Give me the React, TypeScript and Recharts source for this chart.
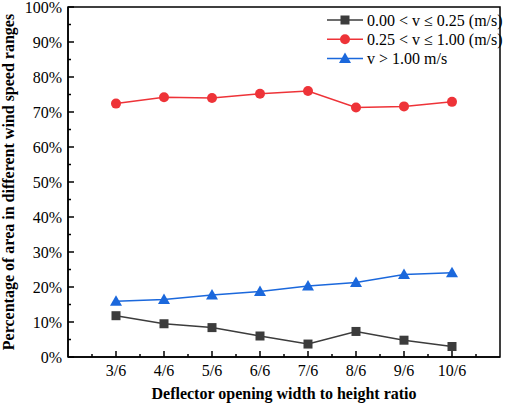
import { LineChart, Line, XAxis, YAxis, ReferenceArea } from 'recharts'

const ratios = [3, 4, 5, 6, 7, 8, 9, 10]
const lowSpeed = [11.8, 9.5, 8.4, 6.0, 3.7, 7.3, 4.8, 3.0]
const midSpeed = [72.4, 74.2, 74.0, 75.2, 76.0, 71.3, 71.6, 72.9]
const highSpeed = [15.9, 16.4, 17.7, 18.7, 20.3, 21.3, 23.6, 24.1]

const xTicks = [2.5, 3, 3.5, 4, 4.5, 5, 5.5, 6, 6.5, 7, 7.5, 8, 8.5, 9, 9.5, 10, 10.5]
const yTicks = Array.from({ length: 21 }, (_, i) => i * 5)

const series = [
  { key: 'low', name: '0.00 < v ≤ 0.25 (m/s)', color: '#3c3c3c', shape: 'square' },
  { key: 'mid', name: '0.25 < v ≤ 1.00 (m/s)', color: '#ee3338', shape: 'circle' },
  { key: 'high', name: 'v > 1.00 m/s', color: '#1b68dc', shape: 'triangle' },
]

const data = ratios.map((r, i) => ({
  ratio: r,
  low: lowSpeed[i],
  mid: midSpeed[i],
  high: highSpeed[i],
}))

const font = '"Liberation Serif", "Times New Roman", serif'

function Marker({ cx, cy, shape, color }: any) {
  if (cx == null || cy == null) return null
  if (shape === 'square')
    return <rect x={cx - 4.5} y={cy - 4.5} width={9} height={9} fill={color} />
  if (shape === 'triangle')
    return (
      <polygon
        points={`${cx},${cy - 6} ${cx - 6},${cy + 4.5} ${cx + 6},${cy + 4.5}`}
        fill={color}
      />
    )
  return <circle cx={cx} cy={cy} r={5} fill={color} />
}

function XTick({ x, y, payload }: any) {
  const v = payload.value
  const major = Number.isInteger(v)
  return (
    <g>
      <line x1={x} x2={x} y1={y} y2={y - (major ? 6 : 3)} stroke="#000" strokeWidth={1.5} />
      {major && (
        <text x={x} y={y + 19} textAnchor="middle" fill="#000" style={{ fontFamily: font, fontSize: 16 }}>
          {`${v}/6`}
        </text>
      )}
    </g>
  )
}

function YTick({ x, y, payload }: any) {
  const v = payload.value
  const major = v % 10 === 0
  return (
    <g>
      <line x1={x} x2={x + (major ? 6 : 3)} y1={y} y2={y} stroke="#000" strokeWidth={1.5} />
      {major && (
        <text x={x - 6} y={y + 5.5} textAnchor="end" fill="#000" style={{ fontFamily: font, fontSize: 16 }}>
          {`${v}%`}
        </text>
      )}
    </g>
  )
}

function LegendBox() {
  return (
    <svg width={180} height={62} style={{ position: 'absolute', left: 327, top: 10 }}>
      {series.map((s, i) => {
        const cy = 10 + i * 19.3
        return (
          <g key={s.key}>
            <line x1={0} x2={36} y1={cy} y2={cy} stroke={s.color} strokeWidth={1.5} />
            <Marker cx={18} cy={cy} shape={s.shape} color={s.color} />
            <text x={40} y={cy + 5.5} fill="#000" style={{ fontFamily: font, fontSize: 16 }}>
              {s.name}
            </text>
          </g>
        )
      })}
    </svg>
  )
}

const labelStyle = { fontFamily: font, fontSize: 16, fontWeight: 'bold', fill: '#000' }

export default function App() {
  return (
    <div style={{ position: 'fixed', left: 0, top: 0, width: 505, height: 405, background: '#fff' }}>
      <LineChart
        width={505}
        height={405}
        data={data}
        margin={{ top: 7, right: 5, left: 0, bottom: 0 }}
      >
        <XAxis
          dataKey="ratio"
          type="number"
          domain={[2, 11]}
          ticks={xTicks}
          interval={0}
          height={48}
          tickSize={0}
          tickMargin={0}
          tickLine={false}
          tick={<XTick />}
          axisLine={{ stroke: '#000', strokeWidth: 1.5 }}
          label={{
            value: 'Deflector opening width to height ratio',
            position: 'insideBottom',
            offset: 6,
            style: labelStyle,
          }}
        />
        <YAxis
          type="number"
          domain={[0, 100]}
          ticks={yTicks}
          interval={0}
          width={68}
          tickSize={0}
          tickMargin={0}
          tickLine={false}
          tick={<YTick />}
          axisLine={{ stroke: '#000', strokeWidth: 1.5 }}
          label={{
            value: 'Percentage of area in different wind speed ranges',
            angle: -90,
            position: 'insideLeft',
            offset: 8,
            style: { ...labelStyle, textAnchor: 'middle' },
          }}
        />
        <ReferenceArea
          x1={2}
          x2={11}
          y1={0}
          y2={100}
          fill="none"
          fillOpacity={0}
          stroke="#000"
          strokeWidth={1.5}
          strokeOpacity={1}
        />
        {series.map((s) => (
          <Line
            key={s.key}
            dataKey={s.key}
            name={s.name}
            stroke={s.color}
            strokeWidth={1.5}
            isAnimationActive={false}
            dot={(p: any) => (
              <Marker key={`${s.key}-${p.index}`} cx={p.cx} cy={p.cy} shape={s.shape} color={s.color} />
            )}
            activeDot={false}
          />
        ))}
      </LineChart>
      <LegendBox />
    </div>
  )
}
